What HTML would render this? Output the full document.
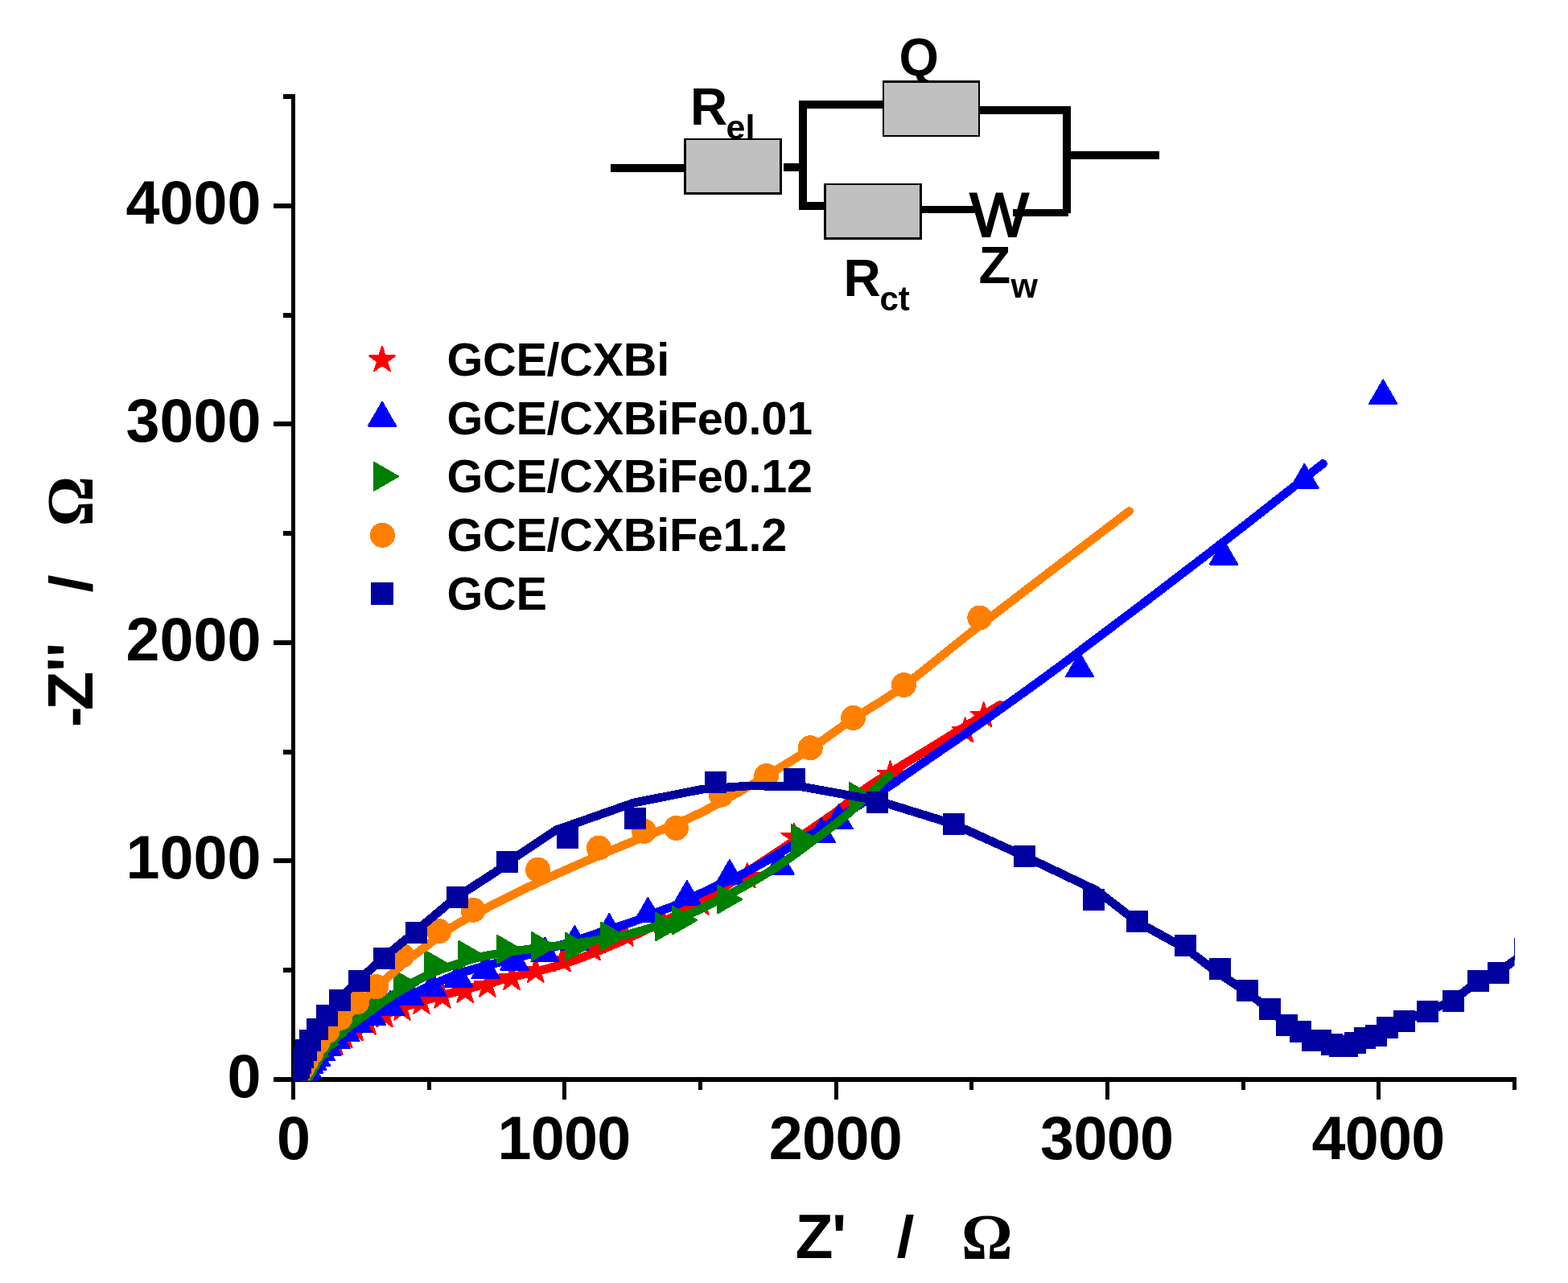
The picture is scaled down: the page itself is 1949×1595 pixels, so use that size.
<!DOCTYPE html>
<html lang="en"><head><meta charset="utf-8"><title>Nyquist plot</title>
<style>
html,body{margin:0;padding:0;background:#fff;}
body{width:1949px;height:1595px;overflow:hidden;}
svg{display:block;}
text{font-family:"Liberation Sans",sans-serif;font-weight:bold;fill:#000;}
.sym{font-family:"Liberation Serif",serif;font-weight:bold;}
.reg{font-weight:normal;}
</style></head><body>
<svg width="1949" height="1595" viewBox="0 0 1949 1595" role="img" aria-label="Nyquist plot of GCE and modified electrodes with equivalent circuit">
<rect x="0" y="0" width="1949" height="1595" fill="#fff"/>
<g fill="#000" shape-rendering="crispEdges">
<rect x="362" y="117" width="5" height="1228"/>
<rect x="362" y="1339" width="1523" height="6"/>
<rect x="340" y="1339" width="22" height="6"/>
<rect x="362" y="1345" width="5" height="22"/>
<rect x="352" y="1203" width="10" height="6"/>
<rect x="531" y="1345" width="5" height="10"/>
<rect x="340" y="1067" width="22" height="6"/>
<rect x="699" y="1345" width="5" height="22"/>
<rect x="352" y="932" width="10" height="6"/>
<rect x="868" y="1345" width="5" height="10"/>
<rect x="340" y="796" width="22" height="6"/>
<rect x="1037" y="1345" width="5" height="22"/>
<rect x="352" y="660" width="10" height="6"/>
<rect x="1205" y="1345" width="5" height="10"/>
<rect x="340" y="524" width="22" height="6"/>
<rect x="1374" y="1345" width="5" height="22"/>
<rect x="352" y="389" width="10" height="6"/>
<rect x="1543" y="1345" width="5" height="10"/>
<rect x="340" y="253" width="22" height="6"/>
<rect x="1711" y="1345" width="5" height="22"/>
<rect x="352" y="117" width="10" height="6"/>
<rect x="1880" y="1345" width="5" height="10"/>
</g>
<g font-size="75.5" text-anchor="end">
<text x="324.5" y="1364.0">0</text>
<text x="324.5" y="1092.4">1000</text>
<text x="324.5" y="820.9">2000</text>
<text x="324.5" y="549.3">3000</text>
<text x="324.5" y="277.8">4000</text>
</g>
<g font-size="75.5" text-anchor="middle" letter-spacing="-0.7">
<text x="364.7" y="1441.2">0</text>
<text x="701.0" y="1441.2">1000</text>
<text x="1038.4" y="1441.2">2000</text>
<text x="1375.7" y="1441.2">3000</text>
<text x="1713.0" y="1441.2">4000</text>
</g>
<g font-size="77">
<text x="988.5" y="1564">Z</text>
<text x="1034" y="1564">'</text>
<text transform="translate(1114.5,1563.2) scale(1.03,0.95)">/</text>
<text x="1195" y="1564.5" font-size="79.5" class="sym">Ω</text>
</g>
<g transform="translate(114.5,901) rotate(-90)" font-size="77">
<text x="-3" y="1">-</text>
<text x="18" y="0" font-size="79">Z</text>
<text x="65.7" y="-1.7">''</text>
<text transform="translate(164.4,-0.5) scale(1.03,0.96)">/</text>
<text transform="translate(246.5,0) scale(1,1.07)" font-size="78" class="sym">Ω</text>
</g>
<g id="circuit">
<g fill="#000" shape-rendering="crispEdges">
<rect x="759" y="204" width="92" height="10"/>
<rect x="974" y="203" width="20" height="10"/>
<rect x="993" y="125" width="10" height="136"/>
<rect x="993" y="125" width="105" height="10"/>
<rect x="1218" y="132" width="113" height="10"/>
<rect x="1321" y="132" width="10" height="133"/>
<rect x="1331" y="188" width="110" height="10"/>
<rect x="993" y="251" width="32" height="10"/>
<rect x="1146" y="256" width="68" height="9"/>
<rect x="1259" y="260" width="69" height="9"/>
</g>
<text x="858" y="155.3" font-size="64">R</text>
<text x="902.5" y="172.5" font-size="43">el</text>
<text transform="translate(1117.5,94) scale(0.955,1)" font-size="66.5">Q</text>
<text x="1048.5" y="368" font-size="64">R</text>
<text x="1093.5" y="386" font-size="42">ct</text>
<text x="1216.5" y="352" font-size="65">Z</text>
<text x="1256.5" y="370" font-size="43">w</text>
<text x="1205.5" y="294.3" font-size="77.5" class="reg" stroke="#000" stroke-width="2.2">W</text>
<g shape-rendering="crispEdges">
<rect x="850" y="172" width="122" height="70" fill="#000"/>
<rect x="853" y="174" width="116" height="65" fill="#c0c0c0"/>
<rect x="1097" y="100" width="121" height="70" fill="#000"/>
<rect x="1099" y="103" width="117" height="65" fill="#c0c0c0"/>
<rect x="1024" y="228" width="122" height="70" fill="#000"/>
<rect x="1027" y="230" width="116" height="65" fill="#c0c0c0"/>
</g>
</g>
<g id="legend" shape-rendering="crispEdges">
<g fill="#ff0000" stroke="#ff0000" stroke-width="2" stroke-linejoin="round"><polygon points="475.0,430.9 478.7,442.4 490.9,442.4 481.1,449.6 484.8,461.1 475.0,454.0 465.2,461.1 468.9,449.6 459.1,442.4 471.3,442.4"/></g>
<g fill="#0000ff" stroke="#0000ff" stroke-width="2" stroke-linejoin="round"><polygon points="475.0,499.9 492.2,529.6 457.8,529.6"/></g>
<g fill="#008000" stroke="#008000" stroke-width="2" stroke-linejoin="round"><polygon points="465.0,574.9 495.0,592.3 465.0,609.6"/></g>
<g fill="#ff8000"><circle cx="475.4" cy="665.3" r="15.5"/></g>
<g fill="#0000a0" shape-rendering="crispEdges"><rect x="461.0" y="724.0" width="28" height="28"/></g>
<g font-size="57.6" letter-spacing="-0.25">
<text x="555.5" y="467">GCE/CXBi</text>
<text x="555.5" y="540">GCE/CXBiFe0.01</text>
<text x="555.5" y="612">GCE/CXBiFe0.12</text>
<text x="555.5" y="685">GCE/CXBiFe1.2</text>
<text x="555.5" y="758">GCE</text>
</g>
</g>
<defs><clipPath id="frame"><rect x="364.5" y="100" width="1518" height="1243.5"/></clipPath></defs>
<g id="series" clip-path="url(#frame)" shape-rendering="crispEdges">
<g fill="#ff0000" stroke="#ff0000" stroke-width="2" stroke-linejoin="round">
<polygon points="384.0,1307.3 387.7,1318.8 399.9,1318.8 390.1,1326.0 393.8,1337.5 384.0,1330.4 374.2,1337.5 377.9,1326.0 368.1,1318.8 380.3,1318.8"/>
<polygon points="389.0,1301.3 392.7,1312.8 404.9,1312.8 395.1,1320.0 398.8,1331.5 389.0,1324.4 379.2,1331.5 382.9,1320.0 373.1,1312.8 385.3,1312.8"/>
<polygon points="396.0,1295.3 399.7,1306.8 411.9,1306.8 402.1,1314.0 405.8,1325.5 396.0,1318.4 386.2,1325.5 389.9,1314.0 380.1,1306.8 392.3,1306.8"/>
<polygon points="405.0,1288.3 408.7,1299.8 420.9,1299.8 411.1,1307.0 414.8,1318.5 405.0,1311.4 395.2,1318.5 398.9,1307.0 389.1,1299.8 401.3,1299.8"/>
<polygon points="415.8,1280.6 419.5,1292.1 431.7,1292.1 421.9,1299.3 425.6,1310.8 415.8,1303.7 406.0,1310.8 409.7,1299.3 399.9,1292.1 412.1,1292.1"/>
<polygon points="427.8,1272.3 431.5,1283.8 443.7,1283.8 433.9,1291.0 437.6,1302.5 427.8,1295.4 418.0,1302.5 421.7,1291.0 411.9,1283.8 424.1,1283.8"/>
<polygon points="441.3,1263.3 445.0,1274.8 457.2,1274.8 447.4,1282.0 451.1,1293.5 441.3,1286.4 431.5,1293.5 435.2,1282.0 425.4,1274.8 437.6,1274.8"/>
<polygon points="457.1,1255.4 460.8,1266.9 473.0,1266.9 463.2,1274.1 466.9,1285.6 457.1,1278.5 447.3,1285.6 451.0,1274.1 441.2,1266.9 453.4,1266.9"/>
<polygon points="478.0,1246.3 481.7,1257.8 493.9,1257.8 484.1,1265.0 487.8,1276.5 478.0,1269.4 468.2,1276.5 471.9,1265.0 462.1,1257.8 474.3,1257.8"/>
<polygon points="500.0,1237.5 503.7,1249.0 515.9,1249.0 506.1,1256.2 509.8,1267.7 500.0,1260.6 490.2,1267.7 493.9,1256.2 484.1,1249.0 496.3,1249.0"/>
<polygon points="524.0,1229.7 527.7,1241.2 539.9,1241.2 530.1,1248.4 533.8,1259.9 524.0,1252.8 514.2,1259.9 517.9,1248.4 508.1,1241.2 520.3,1241.2"/>
<polygon points="550.0,1222.6 553.7,1234.1 565.9,1234.1 556.1,1241.3 559.8,1252.8 550.0,1245.7 540.2,1252.8 543.9,1241.3 534.1,1234.1 546.3,1234.1"/>
<polygon points="578.2,1215.7 581.9,1227.2 594.1,1227.2 584.3,1234.4 588.0,1245.9 578.2,1238.8 568.4,1245.9 572.1,1234.4 562.3,1227.2 574.5,1227.2"/>
<polygon points="605.9,1208.5 609.6,1220.0 621.8,1220.0 612.0,1227.2 615.7,1238.7 605.9,1231.6 596.1,1238.7 599.8,1227.2 590.0,1220.0 602.2,1220.0"/>
<polygon points="636.0,1199.8 639.7,1211.3 651.9,1211.3 642.1,1218.5 645.8,1230.0 636.0,1222.9 626.2,1230.0 629.9,1218.5 620.1,1211.3 632.3,1211.3"/>
<polygon points="665.8,1190.5 669.5,1202.0 681.7,1202.0 671.9,1209.2 675.6,1220.7 665.8,1213.6 656.0,1220.7 659.7,1209.2 649.9,1202.0 662.1,1202.0"/>
<polygon points="699.0,1177.2 702.7,1188.7 714.9,1188.7 705.1,1195.9 708.8,1207.4 699.0,1200.3 689.2,1207.4 692.9,1195.9 683.1,1188.7 695.3,1188.7"/>
<polygon points="736.0,1163.3 739.7,1174.8 751.9,1174.8 742.1,1182.0 745.8,1193.5 736.0,1186.4 726.2,1193.5 729.9,1182.0 720.1,1174.8 732.3,1174.8"/>
<polygon points="777.0,1145.4 780.7,1156.9 792.9,1156.9 783.1,1164.1 786.8,1175.6 777.0,1168.5 767.2,1175.6 770.9,1164.1 761.1,1156.9 773.3,1156.9"/>
<polygon points="824.0,1129.3 827.7,1140.8 839.9,1140.8 830.1,1148.0 833.8,1159.5 824.0,1152.4 814.2,1159.5 817.9,1148.0 808.1,1140.8 820.3,1140.8"/>
<polygon points="870.9,1106.4 874.6,1117.9 886.8,1117.9 877.0,1125.1 880.7,1136.6 870.9,1129.5 861.1,1136.6 864.8,1125.1 855.0,1117.9 867.2,1117.9"/>
<polygon points="928.8,1073.3 932.5,1084.8 944.7,1084.8 934.9,1092.0 938.6,1103.5 928.8,1096.4 919.0,1103.5 922.7,1092.0 912.9,1084.8 925.1,1084.8"/>
<polygon points="987.2,1024.2 990.9,1035.7 1003.1,1035.7 993.3,1042.9 997.0,1054.4 987.2,1047.3 977.4,1054.4 981.1,1042.9 971.3,1035.7 983.5,1035.7"/>
<polygon points="1106.6,946.3 1110.3,957.8 1122.5,957.8 1112.7,965.0 1116.4,976.5 1106.6,969.4 1096.8,976.5 1100.5,965.0 1090.7,957.8 1102.9,957.8"/>
<polygon points="1199.7,892.3 1203.4,903.8 1215.6,903.8 1205.8,911.0 1209.5,922.5 1199.7,915.4 1189.9,922.5 1193.6,911.0 1183.8,903.8 1196.0,903.8"/>
<polygon points="1222.7,873.1 1226.4,884.6 1238.6,884.6 1228.8,891.8 1232.5,903.3 1222.7,896.2 1212.9,903.3 1216.6,891.8 1206.8,884.6 1219.0,884.6"/>
</g>
<path d="M386.0,1342.0 C387.0,1339.3 389.7,1331.0 392.0,1326.0 C394.3,1321.0 396.7,1316.3 400.0,1312.0 C403.3,1307.7 407.3,1304.0 412.0,1300.0 C416.7,1296.0 421.8,1292.0 428.0,1288.0 C434.2,1284.0 440.7,1280.5 449.0,1276.0 C457.3,1271.5 465.5,1266.2 478.0,1261.0 C490.5,1255.8 507.3,1250.2 524.0,1245.0 C540.7,1239.8 559.3,1235.0 578.0,1230.0 C596.7,1225.0 615.6,1220.2 636.0,1215.0 C656.4,1209.8 679.0,1205.3 700.3,1198.5 C721.6,1191.7 742.3,1183.2 763.9,1173.9 C785.5,1164.7 810.7,1152.7 830.0,1143.0 C849.3,1133.3 861.1,1127.2 879.8,1115.9 C898.5,1104.6 916.3,1092.4 942.1,1075.2 C967.9,1058.0 1011.4,1029.1 1034.4,1012.8 C1057.4,996.5 1057.8,992.4 1080.0,977.4 C1102.2,962.4 1140.5,939.7 1167.8,922.8 C1195.0,905.9 1230.9,883.8 1243.5,876.0" fill="none" stroke="#ff0000" stroke-width="10.7" stroke-linejoin="round" stroke-linecap="round"/>
<g fill="#0000ff" stroke="#0000ff" stroke-width="2" stroke-linejoin="round">
<polygon points="379.0,1315.2 396.2,1344.8 361.8,1344.8"/>
<polygon points="381.5,1310.2 398.7,1339.8 364.3,1339.8"/>
<polygon points="384.4,1304.5 401.6,1334.1 367.2,1334.1"/>
<polygon points="388.1,1300.0 405.3,1329.6 370.9,1329.6"/>
<polygon points="393.0,1295.1 410.2,1324.8 375.8,1324.8"/>
<polygon points="399.0,1288.7 416.2,1318.3 381.8,1318.3"/>
<polygon points="406.6,1281.9 423.8,1311.5 389.4,1311.5"/>
<polygon points="417.5,1273.7 434.7,1303.3 400.3,1303.3"/>
<polygon points="429.5,1264.6 446.7,1294.2 412.3,1294.2"/>
<polygon points="444.6,1253.2 461.8,1282.9 427.4,1282.9"/>
<polygon points="461.9,1244.2 479.1,1273.9 444.7,1273.9"/>
<polygon points="485.0,1232.0 502.2,1261.6 467.8,1261.6"/>
<polygon points="509.2,1219.5 526.4,1249.1 492.0,1249.1"/>
<polygon points="537.4,1208.7 554.6,1238.3 520.2,1238.3"/>
<polygon points="569.8,1196.9 587.0,1226.5 552.6,1226.5"/>
<polygon points="603.6,1186.7 620.8,1216.3 586.4,1216.3"/>
<polygon points="639.5,1175.9 656.7,1205.5 622.3,1205.5"/>
<polygon points="677.5,1165.6 694.7,1195.2 660.3,1195.2"/>
<polygon points="714.3,1151.2 731.5,1180.9 697.1,1180.9"/>
<polygon points="757.2,1136.2 774.4,1165.9 740.0,1165.9"/>
<polygon points="805.4,1116.2 822.6,1145.9 788.2,1145.9"/>
<polygon points="853.9,1095.1 871.1,1124.8 836.7,1124.8"/>
<polygon points="906.9,1069.2 924.1,1098.9 889.7,1098.9"/>
<polygon points="969.6,1057.0 986.8,1086.6 952.4,1086.6"/>
<polygon points="1020.8,1017.1 1038.0,1046.8 1003.6,1046.8"/>
<polygon points="1042.5,1000.4 1059.7,1030.0 1025.3,1030.0"/>
<polygon points="1342.0,811.6 1359.2,841.4 1324.8,841.4"/>
<polygon points="1521.0,671.9 1538.2,701.6 1503.8,701.6"/>
<polygon points="1621.4,576.9 1638.6,606.6 1604.2,606.6"/>
<polygon points="1719.2,472.3 1736.4,502.1 1702.0,502.1"/>
</g>
<path d="M384.0,1342.0 C385.0,1339.7 387.5,1332.8 390.0,1328.0 C392.5,1323.2 395.7,1317.7 399.0,1313.0 C402.3,1308.3 405.8,1304.2 410.0,1300.0 C414.2,1295.8 418.2,1292.5 424.0,1288.0 C429.8,1283.5 438.7,1277.3 445.0,1273.0 C451.3,1268.7 455.3,1266.0 462.0,1262.0 C468.7,1258.0 477.0,1253.2 485.0,1249.0 C493.0,1244.8 495.5,1243.5 510.0,1237.0 C524.5,1230.5 550.1,1217.6 571.8,1210.0 C593.5,1202.4 622.0,1196.5 640.0,1191.5 C658.0,1186.5 666.4,1184.0 680.0,1180.0 C693.6,1176.0 710.8,1170.7 721.8,1167.2 C732.8,1163.7 738.6,1161.4 745.9,1159.0 C753.2,1156.6 757.8,1155.4 765.4,1152.9 C773.0,1150.4 783.5,1147.1 791.6,1144.1 C799.7,1141.1 806.5,1137.9 814.2,1134.9 C821.9,1131.9 829.6,1129.6 837.8,1126.2 C846.0,1122.8 854.7,1118.5 863.4,1114.4 C872.1,1110.3 881.0,1105.7 890.0,1101.5 C899.0,1097.3 907.1,1094.4 917.5,1089.2 C927.9,1084.0 938.6,1078.2 952.4,1070.3 C966.1,1062.4 985.1,1050.9 1000.0,1042.0 C1014.9,1033.1 1024.5,1027.8 1042.0,1017.0 C1059.5,1006.2 1090.3,987.0 1105.0,977.5 C1119.7,968.0 1119.2,967.6 1130.3,960.0 C1141.3,952.4 1156.8,941.8 1171.3,931.8 C1185.8,921.8 1193.0,917.4 1217.5,900.0 C1242.0,882.6 1271.1,862.5 1318.2,827.5 C1365.3,792.5 1445.6,731.6 1500.0,689.7 C1554.4,647.9 1620.4,595.3 1644.5,576.4" fill="none" stroke="#0000ff" stroke-width="10.7" stroke-linejoin="round" stroke-linecap="round"/>
<g fill="#008000" stroke="#008000" stroke-width="2" stroke-linejoin="round">
<polygon points="370.0,1304.7 400.0,1322.0 370.0,1339.3"/>
<polygon points="377.9,1295.5 407.9,1312.8 377.9,1330.1"/>
<polygon points="390.7,1281.2 420.7,1298.5 390.7,1315.8"/>
<polygon points="400.5,1269.9 430.5,1287.2 400.5,1304.5"/>
<polygon points="414.8,1256.2 444.8,1273.6 414.8,1290.9"/>
<polygon points="433.6,1242.0 463.6,1259.3 433.6,1276.6"/>
<polygon points="460.0,1224.7 490.0,1242.0 460.0,1259.3"/>
<polygon points="490.1,1206.4 520.1,1223.7 490.1,1241.0"/>
<polygon points="528.1,1181.7 558.1,1199.0 528.1,1216.3"/>
<polygon points="570.4,1170.0 600.4,1187.3 570.4,1204.6"/>
<polygon points="618.0,1162.9 648.0,1180.2 618.0,1197.5"/>
<polygon points="661.0,1159.1 691.0,1176.4 661.0,1193.8"/>
<polygon points="703.1,1159.7 733.1,1177.0 703.1,1194.3"/>
<polygon points="747.4,1146.8 777.4,1164.1 747.4,1181.4"/>
<polygon points="815.1,1134.7 845.1,1152.0 815.1,1169.3"/>
<polygon points="836.1,1126.7 866.1,1144.0 836.1,1161.3"/>
<polygon points="892.2,1100.7 922.2,1118.0 892.2,1135.3"/>
<polygon points="984.2,1025.2 1014.2,1042.5 984.2,1059.8"/>
<polygon points="1056.0,973.1 1086.0,990.5 1056.0,1007.9"/>
</g>
<path d="M383.0,1342.0 C384.7,1339.0 389.8,1329.5 393.0,1324.0 C396.2,1318.5 398.5,1314.0 402.0,1309.0 C405.5,1304.0 409.7,1298.7 414.0,1294.0 C418.3,1289.3 421.7,1286.2 428.0,1281.0 C434.3,1275.8 443.8,1269.0 452.0,1263.0 C460.2,1257.0 470.7,1249.5 477.0,1245.0 C483.3,1240.5 484.4,1239.7 490.0,1236.0 C495.6,1232.3 504.1,1226.6 510.3,1223.0 C516.5,1219.4 521.3,1217.3 527.1,1214.6 C532.9,1211.8 538.0,1209.3 545.0,1206.5 C552.0,1203.7 561.7,1200.5 569.2,1198.0 C576.7,1195.5 583.6,1193.3 590.0,1191.5 C596.4,1189.7 597.7,1189.2 607.7,1187.4 C617.7,1185.7 635.5,1183.0 650.0,1181.0 C664.5,1179.0 676.7,1177.9 695.0,1175.4 C713.3,1172.9 741.8,1169.4 760.0,1166.0 C778.2,1162.6 787.3,1160.2 804.0,1155.0 C820.7,1149.8 842.3,1142.5 860.0,1135.0 C877.7,1127.5 893.3,1118.9 910.0,1110.0 C926.7,1101.1 944.7,1091.1 960.0,1081.4 C975.3,1071.7 987.0,1062.7 1002.0,1051.6 C1017.0,1040.5 1032.8,1029.6 1050.0,1015.0 C1067.2,1000.4 1096.2,972.7 1105.5,964.2" fill="none" stroke="#008000" stroke-width="10.7" stroke-linejoin="round" stroke-linecap="round"/>
<g fill="#ff8000">
<circle cx="376.0" cy="1328.0" r="15.5"/>
<circle cx="381.0" cy="1319.0" r="15.5"/>
<circle cx="387.0" cy="1309.0" r="15.5"/>
<circle cx="395.0" cy="1296.0" r="15.5"/>
<circle cx="407.0" cy="1282.0" r="15.5"/>
<circle cx="423.0" cy="1265.4" r="15.5"/>
<circle cx="443.9" cy="1245.7" r="15.5"/>
<circle cx="467.7" cy="1226.7" r="15.5"/>
<circle cx="499.7" cy="1188.0" r="15.5"/>
<circle cx="545.7" cy="1157.7" r="15.5"/>
<circle cx="588.1" cy="1131.4" r="15.5"/>
<circle cx="668.6" cy="1081.2" r="15.5"/>
<circle cx="744.4" cy="1054.2" r="15.5"/>
<circle cx="800.6" cy="1033.4" r="15.5"/>
<circle cx="840.5" cy="1029.4" r="15.5"/>
<circle cx="896.2" cy="988.2" r="15.5"/>
<circle cx="952.5" cy="964.7" r="15.5"/>
<circle cx="1007.2" cy="929.7" r="15.5"/>
<circle cx="1060.6" cy="892.4" r="15.5"/>
<circle cx="1123.4" cy="851.5" r="15.5"/>
<circle cx="1217.8" cy="768.0" r="15.5"/>
</g>
<path d="M379.0,1342.0 C380.4,1339.0 384.3,1329.9 387.5,1324.0 C390.7,1318.1 394.8,1312.0 398.0,1306.7 C401.2,1301.5 403.8,1297.0 407.0,1292.5 C410.2,1288.0 413.5,1284.5 417.5,1279.7 C421.5,1275.0 425.2,1270.1 431.0,1264.0 C436.8,1257.9 443.8,1250.8 452.0,1243.0 C460.2,1235.2 471.2,1225.0 480.0,1217.0 C488.8,1209.0 496.7,1201.8 505.0,1195.0 C513.3,1188.2 519.7,1183.6 530.0,1176.0 C540.3,1168.4 548.7,1160.3 567.0,1149.5 C585.3,1138.7 617.8,1122.1 640.0,1111.0 C662.2,1099.9 680.0,1092.0 700.0,1083.0 C720.0,1074.0 734.4,1067.7 760.0,1057.0 C785.6,1046.3 830.2,1028.9 853.5,1018.6 C876.8,1008.3 883.6,1003.9 900.0,995.0 C916.4,986.1 934.2,975.7 952.0,965.0 C969.8,954.3 989.0,942.8 1007.0,931.0 C1025.0,919.2 1040.7,907.0 1060.0,894.0 C1079.3,881.0 1096.7,872.4 1123.0,853.0 C1149.3,833.6 1171.2,813.8 1218.0,777.5 C1264.8,741.2 1372.7,659.2 1403.6,635.5" fill="none" stroke="#ff8000" stroke-width="10.7" stroke-linejoin="round" stroke-linecap="round"/>
<g fill="#0000a0" shape-rendering="crispEdges">
<rect x="356.4" y="1317.5" width="27" height="27"/>
<rect x="357.9" y="1313.6" width="27" height="27"/>
<rect x="360.1" y="1307.6" width="27" height="27"/>
<rect x="363.1" y="1301.0" width="27" height="27"/>
<rect x="366.8" y="1292.1" width="27" height="27"/>
<rect x="372.0" y="1280.3" width="27" height="27"/>
<rect x="381.1" y="1265.8" width="27" height="27"/>
<rect x="393.2" y="1249.3" width="27" height="27"/>
<rect x="409.4" y="1229.6" width="27" height="27"/>
<rect x="433.1" y="1205.5" width="27" height="27"/>
<rect x="464.1" y="1178.4" width="27" height="27"/>
<rect x="503.6" y="1145.5" width="27" height="27"/>
<rect x="554.5" y="1101.9" width="27" height="27"/>
<rect x="616.6" y="1057.5" width="27" height="27"/>
<rect x="691.7" y="1028.2" width="27" height="27"/>
<rect x="776.4" y="1003.9" width="27" height="27"/>
<rect x="875.6" y="959.4" width="27" height="27"/>
<rect x="973.5" y="954.5" width="27" height="27"/>
<rect x="1076.5" y="984.0" width="27" height="27"/>
<rect x="1172.0" y="1011.1" width="27" height="27"/>
<rect x="1259.9" y="1050.9" width="27" height="27"/>
<rect x="1346.1" y="1105.0" width="27" height="27"/>
<rect x="1400.0" y="1131.9" width="27" height="27"/>
<rect x="1460.0" y="1162.4" width="27" height="27"/>
<rect x="1502.5" y="1191.4" width="27" height="27"/>
<rect x="1537.2" y="1218.2" width="27" height="27"/>
<rect x="1565.1" y="1241.3" width="27" height="27"/>
<rect x="1586.3" y="1261.2" width="27" height="27"/>
<rect x="1602.6" y="1269.4" width="27" height="27"/>
<rect x="1618.4" y="1279.5" width="27" height="27"/>
<rect x="1628.2" y="1279.5" width="27" height="27"/>
<rect x="1641.5" y="1284.6" width="27" height="27"/>
<rect x="1651.6" y="1287.4" width="27" height="27"/>
<rect x="1661.0" y="1286.7" width="27" height="27"/>
<rect x="1671.0" y="1283.4" width="27" height="27"/>
<rect x="1682.6" y="1277.4" width="27" height="27"/>
<rect x="1696.8" y="1273.5" width="27" height="27"/>
<rect x="1710.9" y="1263.5" width="27" height="27"/>
<rect x="1731.9" y="1255.6" width="27" height="27"/>
<rect x="1761.2" y="1243.5" width="27" height="27"/>
<rect x="1792.9" y="1230.5" width="27" height="27"/>
<rect x="1824.0" y="1205.5" width="27" height="27"/>
<rect x="1848.5" y="1195.5" width="27" height="27"/>
</g>
<path d="M366.0,1338.0 L372.0,1322.0 L380.0,1303.0 L390.0,1286.0 L402.0,1268.0 L418.0,1247.0 L442.0,1222.0 L474.0,1193.0 L514.0,1160.0 L565.0,1117.0 L616.0,1084.0 L640.0,1066.0 L691.0,1032.0 L787.8,998.0 L874.0,981.0 L930.0,977.0 L994.0,977.5 L1090.0,995.0 L1185.5,1024.6 L1273.4,1064.4 L1363.0,1107.0 L1413.5,1146.0 L1473.5,1179.0 L1516.0,1211.0 L1551.0,1234.0 L1579.0,1256.0 L1600.0,1275.0 L1616.0,1284.0 L1632.0,1293.0 L1655.0,1299.0 L1668.0,1301.0 L1684.0,1297.0 L1696.0,1291.0 L1710.0,1287.0 L1724.0,1277.0 L1745.0,1269.0 L1775.0,1257.0 L1806.0,1244.0 L1837.5,1219.0 L1862.0,1209.0 L1883.0,1193.6" fill="none" stroke="#0000a0" stroke-width="10.7" stroke-linejoin="round" stroke-linecap="round"/>
</g>
<rect x="1882" y="1166" width="1" height="28" fill="#0000a0" shape-rendering="crispEdges"/>
</svg>
</body></html>
